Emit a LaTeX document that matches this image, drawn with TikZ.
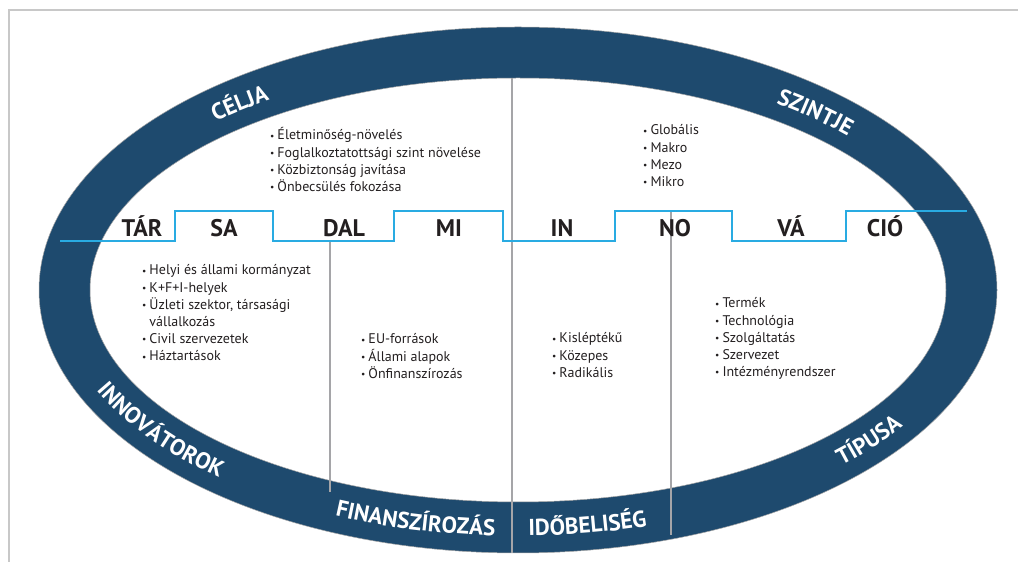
\documentclass[tikz,border=0pt]{standalone}
\usepackage{fontspec}
\setmainfont{PT Sans}
\usetikzlibrary{decorations.text,calc}
\definecolor{ringblue}{RGB}{30,74,110}
\definecolor{stepblue}{RGB}{41,171,226}
\definecolor{txt}{RGB}{35,31,32}
\definecolor{sepgray}{RGB}{165,165,168}
\definecolor{framegray}{RGB}{200,200,200}
\newcommand{\bul}{{\fontsize{9.5}{9.5}\selectfont\raisebox{0.9pt}{•}}\hspace{3pt}}
\begin{document}
\begin{tikzpicture}[x=1pt,y=1pt,
  syl/.style={font=\fontsize{24}{24}\selectfont\bfseries, text=txt, anchor=base, inner sep=0},
  item/.style={font=\fontsize{14}{14}\selectfont, text=txt, anchor=base west, inner sep=0},
  ringlabel/.style={decorate, decoration={text along path, text align=center, text color=white,
     text={|\fontsize{23}{23}\selectfont\bfseries|#1}}},
  sepline/.style={sepgray, line width=1.8pt},
  ]
\useasboundingbox (0,0) rectangle (1018,562);
% frame
\draw[framegray, line width=1.2pt] (9,0) -- (9,552) -- (1018,552);
% ring
\coordinate (C) at (518,272);
\fill[ringblue, even odd rule] (C) ellipse[x radius=479pt, y radius=263pt]
                              (C) ellipse[x radius=428pt, y radius=212pt];
\draw[gray!70, line width=0.5pt] (C) ellipse[x radius=479pt, y radius=263pt];
\draw[gray!70, line width=0.5pt] (C) ellipse[x radius=428pt, y radius=212pt];
% separator lines
\draw[sepline] (512,484) -- (512,9);
\draw[sepline] (330,321) -- (330,70);
\draw[sepline] (671,351) -- (671,27);
% step line
\draw[stepblue, line width=2pt] (60,321) -- (175,321) -- (175,351) -- (273,351) -- (273,321)
  -- (394,321) -- (394,351) -- (503,351) -- (503,321) -- (615,321) -- (615,351)
  -- (732,351) -- (732,321) -- (846,321) -- (846,351) -- (967,351);
% syllables
\node[syl] (s1) at (142,325) {TÁR};
\node[syl] (s2) at (224,325) {SA};
\node[syl] (s3) at (344,325) {DAL};
\node[syl] (s4) at (449,325) {MI};
\node[syl] (s5) at (562,325) {IN};
\node[syl] (s6) at (675,325) {NO};
\node[syl] (s7) at (791,325) {VÁ};
\node[syl] (s8) at (885,325) {CIÓ};
% ring labels
\path[ringlabel=CÉLJA] ($(C)+(153:445pt and 229pt)$) arc[start angle=153, end angle=108, x radius=445pt, y radius=229pt];
\path[ringlabel=SZINTJE] ($(C)+(71:445pt and 229pt)$) arc[start angle=71, end angle=20, x radius=445pt, y radius=229pt];
\path[ringlabel=INNOVÁTOROK] ($(C)+(182:462pt and 246pt)$) arc[start angle=182, end angle=244, x radius=462pt, y radius=246pt];
\path[ringlabel=FINANSZÍROZÁS] ($(C)+(237:462pt and 246pt)$) arc[start angle=237, end angle=276, x radius=462pt, y radius=246pt];
\path[ringlabel=IDŐBELISÉG] ($(C)+(262:462pt and 246pt)$) arc[start angle=262, end angle=296, x radius=462pt, y radius=246pt];
\path[ringlabel=TÍPUSA] ($(C)+(300:462pt and 246pt)$) arc[start angle=300, end angle=346, x radius=462pt, y radius=246pt];
% lists
\foreach \t [count=\i] in {Életminőség-növelés, Foglalkoztatottsági szint növelése, Közbiztonság javítása, Önbecsülés fokozása}
  \node[item] (a\i) at (270, 422-17.2*\i+17.2) {\bul\t};
\foreach \t [count=\i] in {Globális, Makro, Mezo, Mikro}
  \node[item] (b\i) at (643, 427-17.2*\i+17.2) {\bul\t};
\foreach \t [count=\i] in {{\bul Helyi és állami kormányzat}, {\bul K+F+I-helyek}, {\bul Üzleti szektor, társasági}, {\phantom{\bul}vállalkozás}, {\bul Civil szervezetek}, {\bul Háztartások}}
  \node[item] (c\i) at (142, 287-17.2*\i+17.2) {\t};
\foreach \t [count=\i] in {EU-források, Állami alapok, Önfinanszírozás}
  \node[item] (d\i) at (361, 218-17.2*\i+17.2) {\bul\t};
\foreach \t [count=\i] in {Kisléptékű, Közepes, Radikális}
  \node[item] (e\i) at (552, 219-17.2*\i+17.2) {\bul\t};
\foreach \t [count=\i] in {Termék, Technológia, Szolgáltatás, Szervezet, Intézményrendszer}
  \node[item] (f\i) at (715, 254-17.2*\i+17.2) {\bul\t};
\end{tikzpicture}
\end{document}
